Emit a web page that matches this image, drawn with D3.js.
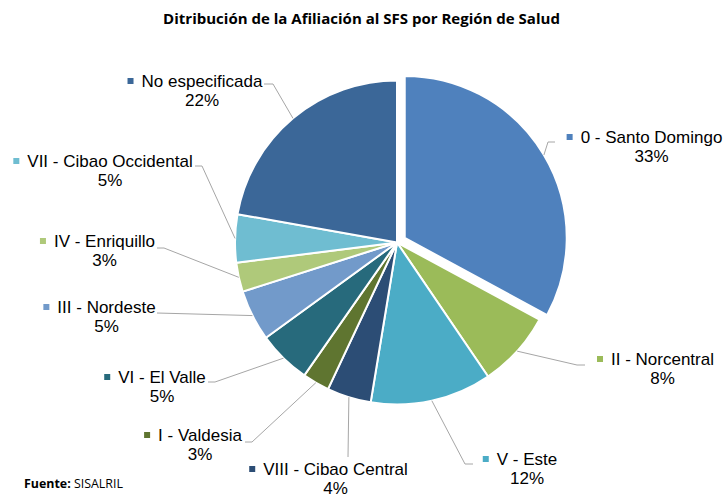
<!DOCTYPE html>
<html><head><meta charset="utf-8">
<script src="https://cdn.jsdelivr.net/npm/d3@7"></script>
<style>html,body{margin:0;padding:0;background:#fff;}</style>
</head><body>
<svg id="chart" width="725" height="495"></svg>
<script>
const categories = ["0 - Santo Domingo","II - Norcentral","V - Este","VIII - Cibao Central","I - Valdesia","VI - El Valle","III - Nordeste","IV - Enriquillo","VII - Cibao Occidental","No especificada"];
const values = [32.9, 7.6, 12.1, 4.4, 2.7, 5.3, 5.1, 2.9, 4.8, 22.2];
const colors = ["#4F81BD","#9BBB59","#4BACC6","#2C4D75","#5F7530","#276A7C","#729ACA","#AFC97A","#6FBDD1","#3B6798"];
const title = "Ditribución de la Afiliación al SFS por Región de Salud";

// layout (label anchor, leader start/elbow)
const labelLayout = [
  {cx:651.5, y:143, lead:[[555,142],[548,142]]},
  {cx:662.5, y:365, lead:[[585,365],[577,365]]},
  {cx:527,   y:465, lead:[[473,464],[465,464]]},
  {cx:335.5, y:475, lead:[[348,457]]},
  {cx:200,   y:441, lead:[[245,442],[252,442]]},
  {cx:162,   y:383, lead:[[208,382],[215,382]]},
  {cx:106.5, y:313, lead:[[157,313]]},
  {cx:104.5, y:247, lead:[[157,248],[164,248]]},
  {cx:110,   y:167, lead:[[195,166],[202,166]]},
  {cx:202,   y:87,  lead:[[264,84],[273,84]]}
];

const svg = d3.select("#chart");
const cx = 397, cy = 242.5, R = 162, explode = 9;

const pie = d3.pie().sort(null).value(d => d);
const arcs = pie(values);
const arc = d3.arc().innerRadius(0).outerRadius(R);

const g = svg.append("g").attr("transform", `translate(${cx},${cy})`);
g.selectAll("path").data(arcs).enter().append("path")
  .attr("d", arc)
  .attr("fill", (d,i) => colors[i])
  .attr("stroke", "#fff")
  .attr("stroke-width", 2)
  .attr("stroke-linejoin", "round")
  .attr("transform", (d,i) => {
    if (i !== 0) return null;
    const a = (d.startAngle + d.endAngle) / 2;
    return `translate(${Math.sin(a)*explode},${-Math.cos(a)*explode})`;
  });

// leader lines
arcs.forEach((d,i) => {
  const a = (d.startAngle + d.endAngle) / 2;
  const off = i === 0 ? explode : 0;
  const px = cx + Math.sin(a) * (R + off);
  const py = cy - Math.cos(a) * (R + off);
  const pts = labelLayout[i].lead.concat([[px, py]]);
  svg.append("path")
    .attr("d", d3.line()(pts))
    .attr("fill", "none")
    .attr("stroke", "#A6A6A6")
    .attr("stroke-width", 1);
});

// labels
const fontLab = "'Liberation Sans', Arial, sans-serif";
arcs.forEach((d,i) => {
  const L = labelLayout[i];
  const t = svg.append("text")
    .attr("x", L.cx).attr("y", L.y)
    .attr("text-anchor", "middle")
    .attr("font-family", fontLab)
    .attr("font-size", 17)
    .attr("fill", "#000")
    .text(categories[i]);
  const w = t.node().getComputedTextLength();
  svg.append("rect")
    .attr("x", L.cx - w/2 - 14).attr("y", L.y - 9)
    .attr("width", 6).attr("height", 6)
    .attr("fill", colors[i]);
  svg.append("text")
    .attr("x", L.cx).attr("y", L.y + 19)
    .attr("text-anchor", "middle")
    .attr("font-family", fontLab)
    .attr("font-size", 17)
    .attr("fill", "#000")
    .text(Math.round(d.data) + "%");
});

// title
const tt = svg.append("text")
  .attr("x", 361.5).attr("y", 24)
  .attr("text-anchor", "middle")
  .attr("font-family", "'Open Sans', sans-serif")
  .attr("font-weight", "bold")
  .attr("font-size", 14)
  .attr("fill", "#000")
  .text(title);
const tw = tt.node().getComputedTextLength();
tt.attr("font-size", 14 * 397 / tw);

// source
const src = svg.append("text")
  .attr("x", 24).attr("y", 488)
  .attr("font-family", "'Open Sans', sans-serif")
  .attr("font-size", 12)
  .attr("fill", "#000");
src.append("tspan").attr("font-weight", "bold").text("Fuente: ");
src.append("tspan").text("SISALRIL");
const sw = src.node().getComputedTextLength();
src.attr("font-size", 12 * 99 / sw);
</script>
</body></html>
